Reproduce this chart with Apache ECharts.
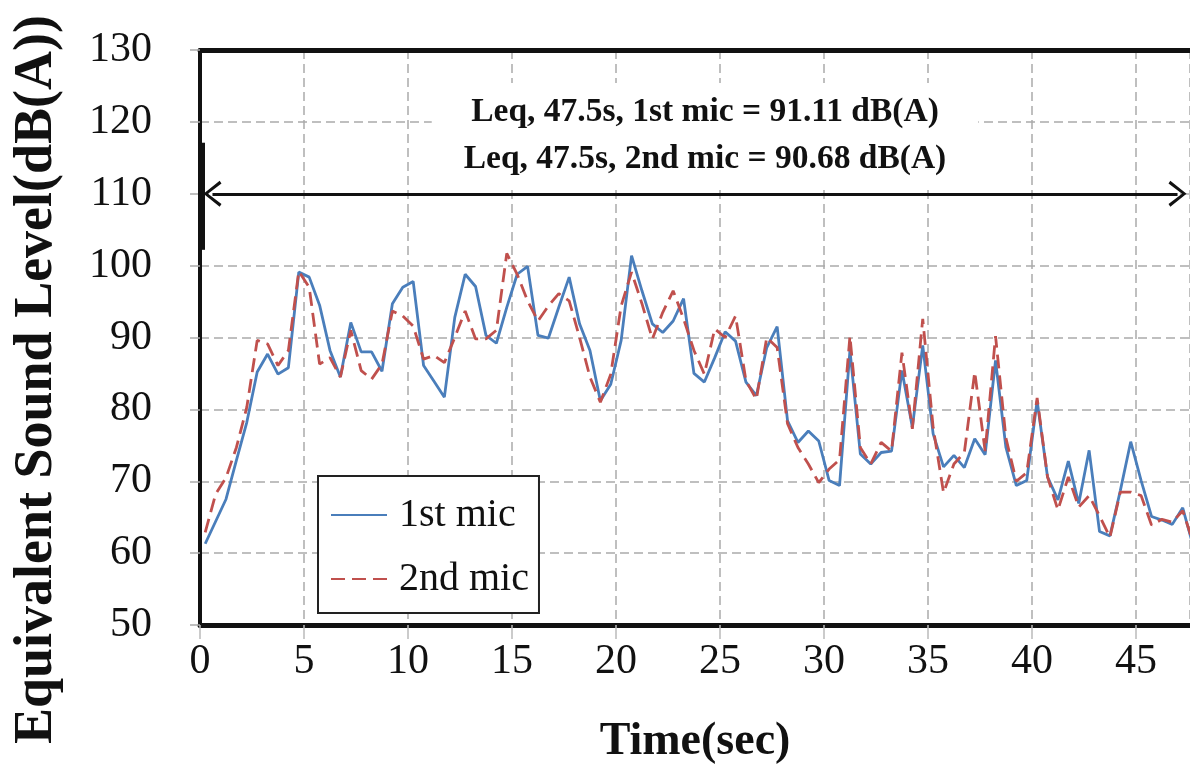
<!DOCTYPE html>
<html>
<head>
<meta charset="utf-8">
<script src="https://cdn.jsdelivr.net/npm/echarts@6/dist/echarts.min.js"></script>
<style>
    html, body { margin: 0; padding: 0; background: #fff; }
    #chart { width: 1190px; height: 772px; }
</style>
</head>
<body>
<div id="chart"></div>
<script>
'use strict';

// time stamps (sec) of each sample
var time_sec = [
    0.25, 0.75, 1.25, 1.75, 2.25, 2.75, 3.25, 3.75, 4.25, 4.75,
    5.25, 5.75, 6.25, 6.75, 7.25, 7.75, 8.25, 8.75, 9.25, 9.75,
    10.25, 10.75, 11.25, 11.75, 12.25, 12.75, 13.25, 13.75, 14.25, 14.75,
    15.25, 15.75, 16.25, 16.75, 17.25, 17.75, 18.25, 18.75, 19.25, 19.75,
    20.25, 20.75, 21.25, 21.75, 22.25, 22.75, 23.25, 23.75, 24.25, 24.75,
    25.25, 25.75, 26.25, 26.75, 27.25, 27.75, 28.25, 28.75, 29.25, 29.75,
    30.25, 30.75, 31.25, 31.75, 32.25, 32.75, 33.25, 33.75, 34.25, 34.75,
    35.25, 35.75, 36.25, 36.75, 37.25, 37.75, 38.25, 38.75, 39.25, 39.75,
    40.25, 40.75, 41.25, 41.75, 42.25, 42.75, 43.25, 43.75, 44.25, 44.75,
    45.25, 45.75, 46.25, 46.75, 47.25, 47.75
];

// dB(A), 1st mic
var mic1_level = [
    61.3, 64.4, 67.5, 72.9, 78.2, 85.2, 87.7, 84.9, 85.8, 99.1,
    98.4, 94.5, 88.2, 84.5, 92.1, 88.0, 88.0, 85.3, 94.7, 97.0,
    97.8, 86.1, 83.9, 81.7, 92.8, 98.8, 97.1, 90.3, 89.2, 94.2,
    98.8, 99.9, 90.3, 89.9, 94.2, 98.4, 91.9, 88.2, 81.2, 83.5,
    89.6, 101.4, 96.5, 91.9, 90.7, 92.3, 95.4, 85.0, 83.8, 87.2,
    90.8, 89.5, 83.8, 81.9, 88.6, 91.5, 78.4, 75.4, 77.0, 75.6,
    70.1, 69.4, 88.2, 73.8, 72.4, 74.0, 74.2, 85.4, 77.5, 88.9,
    76.6, 72.0, 73.6, 71.9, 75.9, 73.7, 86.8, 74.7, 69.4, 70.1,
    81.2, 70.6, 67.4, 72.8, 66.9, 74.3, 63.0, 62.4, 68.7, 75.5,
    70.1, 65.1, 64.6, 64.0, 66.3, 61.0
];

// dB(A), 2nd mic
var mic2_level = [
    62.9, 68.2, 70.5, 74.7, 80.3, 89.6, 89.1, 86.1, 88.2, 99.2,
    97.0, 86.3, 87.2, 84.5, 91.0, 85.4, 84.2, 86.3, 93.7, 93.0,
    91.6, 87.0, 87.5, 86.5, 90.0, 93.7, 89.8, 89.8, 91.0, 101.7,
    98.8, 95.1, 92.3, 94.4, 96.1, 95.1, 90.0, 84.5, 81.0, 84.9,
    94.4, 99.1, 94.7, 89.8, 93.5, 96.5, 92.6, 88.2, 84.9, 91.2,
    90.0, 93.0, 84.0, 81.4, 90.0, 88.6, 78.0, 74.7, 72.4, 69.8,
    71.7, 73.0, 90.2, 74.7, 72.4, 75.4, 74.2, 87.9, 77.3, 92.6,
    77.5, 68.4, 72.4, 74.0, 85.2, 74.2, 90.2, 76.0, 70.0, 71.2,
    81.6, 70.6, 66.0, 70.6, 66.4, 68.0, 65.2, 62.2, 68.5, 68.5,
    68.0, 63.9, 64.7, 64.3, 65.9, 61.5
];

var leq_text = [
    'Leq, 47.5s, 1st mic = 91.11 dB(A)',
    'Leq, 47.5s, 2nd mic = 90.68 dB(A)'
];

var y_ticks = [50, 60, 70, 80, 90, 100, 110, 120, 130];

// measurement period arrow: start, end (sec) and level
var span_arrow = [0.6, 47.0, 110];
// start marker bar: time, low, high
var span_bar = [0.05, 102.2, 117.1];

function pairData(xs, ys) {
    var out = [];
    for (var i = 0; i < xs.length; i++) {
        out.push([xs[i], ys[i]]);
    }
    return out;
}

var serif = 'Liberation Serif, Times New Roman, serif';
var grid_dash = {color: '#ababab', width: 1.5, type: [9, 5]};
var chevron = 'path://M5,0 L10,9 L8.9,10 L5,2.5 L1.1,10 L0,9 Z';

var my_chart = echarts.init(document.getElementById('chart'), null, {renderer: 'canvas'});

my_chart.setOption({
    animation: false,
    backgroundColor: '#fff',
    title: {
        text: leq_text.join('\n'),
        left: 673,
        top: 83,
        textAlign: 'center',
        backgroundColor: '#fff',
        padding: [6, 32],
        textStyle: {
            fontFamily: serif,
            fontWeight: 'bold',
            fontSize: 33.5,
            lineHeight: 47,
            color: '#111'
        }
    },
    legend: {
        orient: 'vertical',
        left: 318,
        top: 476,
        padding: [19, 10, 14, 12],
        itemGap: 24,
        itemWidth: 56,
        itemHeight: 14,
        backgroundColor: '#fff',
        borderColor: '#222',
        borderWidth: 2,
        itemStyle: {opacity: 0},
        textStyle: {
            fontFamily: serif,
            fontSize: 40,
            color: '#111',
            padding: [0, 0, 0, 7]
        },
        data: ['1st mic', '2nd mic']
    },
    grid: {
        left: 200,
        right: 0,
        top: 50,
        bottom: 147,
        containLabel: false
    },
    xAxis: [{
        type: 'value',
        min: 0,
        max: 47.6,
        interval: 5,
        name: 'Time(sec)',
        nameLocation: 'middle',
        nameGap: 94,
        nameTextStyle: {
            fontFamily: serif,
            fontWeight: 'bold',
            fontSize: 46,
            color: '#111'
        },
        axisLine: {lineStyle: {color: '#111', width: 5}},
        axisTick: {show: true, length: 14, lineStyle: {color: '#bbb', width: 1.5}},
        axisLabel: {
            fontFamily: serif,
            fontSize: 42,
            color: '#111',
            margin: 16,
            showMaxLabel: false
        },
        splitLine: {show: true, lineStyle: grid_dash}
    }, {
        // top frame line
        type: 'value',
        position: 'top',
        min: 0,
        max: 47.6,
        axisLine: {lineStyle: {color: '#111', width: 5}},
        axisTick: {show: false},
        axisLabel: {show: false},
        splitLine: {show: false}
    }],
    yAxis: {
        type: 'value',
        min: y_ticks[0],
        max: y_ticks[y_ticks.length - 1],
        interval: 10,
        name: 'Equivalent Sound Level(dB(A))',
        nameLocation: 'middle',
        nameRotate: 90,
        nameGap: 136,
        nameTextStyle: {
            fontFamily: serif,
            fontWeight: 'bold',
            fontSize: 54,
            color: '#111',
            padding: [0, 84, 0, 0]
        },
        axisLine: {show: true, lineStyle: {color: '#111', width: 4}},
        axisTick: {show: true, length: 10, lineStyle: {color: '#aaa', width: 1.5}},
        axisLabel: {
            fontFamily: serif,
            fontSize: 42,
            color: '#111',
            margin: 48
        },
        splitLine: {show: true, lineStyle: grid_dash}
    },
    series: [{
        name: '1st mic',
        type: 'line',
        symbol: 'none',
        color: '#4a7ebb',
        lineStyle: {width: 2.8, color: '#4a7ebb'},
        data: pairData(time_sec, mic1_level),
        markLine: {
            silent: true,
            animation: false,
            label: {show: false},
            data: [
                [
                    {coord: [span_arrow[0], span_arrow[2]], symbol: chevron, symbolSize: [26, 18],
                        lineStyle: {color: '#111', width: 3, type: 'solid'}},
                    {coord: [span_arrow[1], span_arrow[2]], symbol: chevron, symbolSize: [26, 18]}
                ],
                [
                    {coord: [span_bar[0], span_bar[1]], symbol: 'none',
                        lineStyle: {color: '#111', width: 7, type: 'solid'}},
                    {coord: [span_bar[0], span_bar[2]], symbol: 'none'}
                ]
            ]
        }
    }, {
        name: '2nd mic',
        type: 'line',
        symbol: 'none',
        color: '#c0504d',
        lineStyle: {width: 2.8, color: '#c0504d', type: [14, 7]},
        data: pairData(time_sec, mic2_level)
    }]
});
</script>
</body>
</html>
